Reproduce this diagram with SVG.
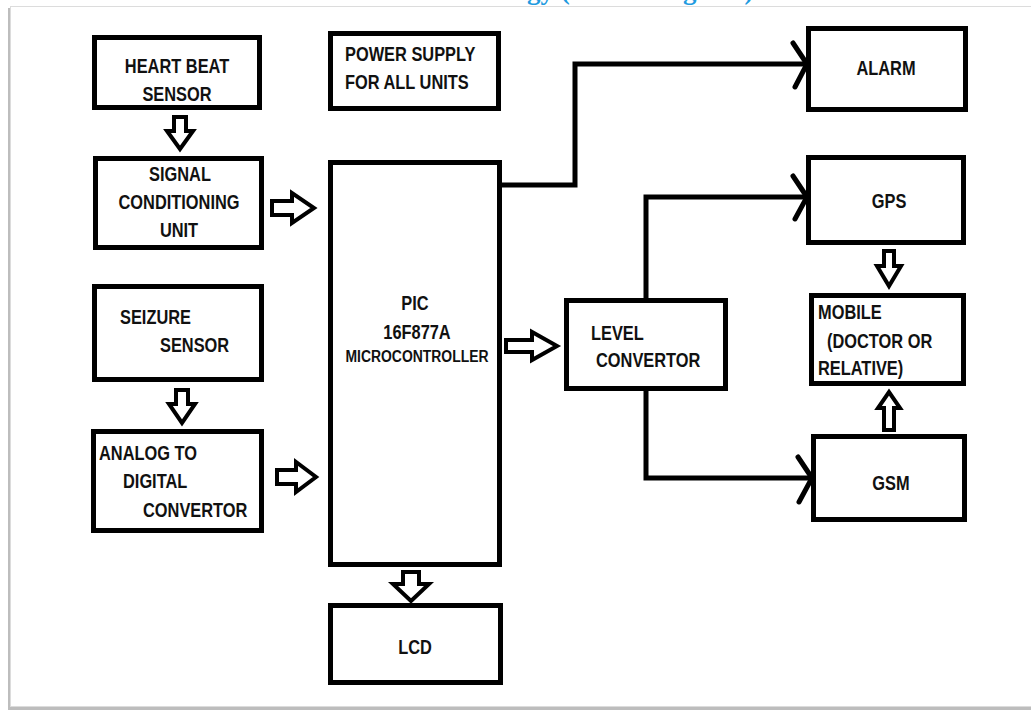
<svg xmlns="http://www.w3.org/2000/svg" width="1031" height="711" viewBox="0 0 1031 711">
<style>
.box{fill:#fff;stroke:#000;stroke-width:5}
.t{font-family:"Liberation Sans",Arial,sans-serif;font-weight:bold;font-size:20px;fill:#111}
.c{text-anchor:middle}
.s{font-size:17px}
.ha{fill:#fff;stroke:#000;stroke-width:4;stroke-linejoin:miter}
.ln{fill:none;stroke:#000;stroke-width:5;stroke-linejoin:miter}
.ah{fill:none;stroke:#000;stroke-width:5;stroke-linecap:round}
.title{font-family:"Liberation Serif",serif;font-weight:bold;font-size:27px;fill:#1f9be0}
</style>
<rect x="0" y="0" width="1031" height="711" fill="#fff"/>
<rect x="8" y="8" width="1030" height="702" fill="#bdbdbd"/>
<rect x="10.5" y="6.5" width="1030" height="700" fill="#fff" stroke="#dcdcdc" stroke-width="1"/>
<text class="title" x="578" y="-1" text-anchor="middle">Methodology (Block Diagram)</text>

<g id="heart-beat-sensor">
<rect class="box" x="94.5" y="37.5" width="165" height="70"/>
<text class="t c" transform="translate(177 73) scale(.82 1)">HEART BEAT</text>
<text class="t c" transform="translate(177 101) scale(.82 1)">SENSOR</text>
</g>
<g id="power-supply">
<rect class="box" x="330.5" y="33.5" width="168" height="75"/>
<text class="t" transform="translate(345 61) scale(.82 1)">POWER SUPPLY</text>
<text class="t" transform="translate(345 89) scale(.82 1)">FOR ALL UNITS</text>
</g>
<g id="signal-conditioning">
<rect class="box" x="95.5" y="158.5" width="166" height="89"/>
<text class="t c" transform="translate(180 181) scale(.82 1)">SIGNAL</text>
<text class="t c" transform="translate(179 209) scale(.82 1)">CONDITIONING</text>
<text class="t c" transform="translate(179 237) scale(.82 1)">UNIT</text>
</g>
<g id="seizure-sensor">
<rect class="box" x="94.5" y="286.5" width="167" height="93"/>
<text class="t" transform="translate(120 324) scale(.82 1)">SEIZURE</text>
<text class="t" transform="translate(160 352) scale(.82 1)">SENSOR</text>
</g>
<g id="adc">
<rect class="box" x="93.5" y="431.5" width="168" height="99"/>
<text class="t" transform="translate(99 460) scale(.82 1)">ANALOG TO</text>
<text class="t" transform="translate(123 488) scale(.82 1)">DIGITAL</text>
<text class="t" transform="translate(143 517) scale(.82 1)">CONVERTOR</text>
</g>
<g id="pic">
<rect class="box" x="330.5" y="162.5" width="169" height="402"/>
<text class="t c" transform="translate(415 310) scale(.82 1)">PIC</text>
<text class="t c" transform="translate(417 339) scale(.82 1)">16F877A</text>
<text class="t c s" transform="translate(417 362) scale(.82 1)">MICROCONTROLLER</text>
</g>
<g id="lcd">
<rect class="box" x="330.5" y="605.5" width="170" height="77"/>
<text class="t c" transform="translate(415 654) scale(.82 1)">LCD</text>
</g>
<g id="level-convertor">
<rect class="box" x="566.5" y="300.5" width="159" height="88"/>
<text class="t" transform="translate(591 340) scale(.82 1)">LEVEL</text>
<text class="t" transform="translate(596 367) scale(.82 1)">CONVERTOR</text>
</g>
<g id="alarm">
<rect class="box" x="808.5" y="28.5" width="157" height="81"/>
<text class="t c" transform="translate(886 75) scale(.82 1)">ALARM</text>
</g>
<g id="gps">
<rect class="box" x="808.5" y="157.5" width="155" height="85"/>
<text class="t c" transform="translate(889 208) scale(.82 1)">GPS</text>
</g>
<g id="mobile">
<rect class="box" x="811.5" y="295.5" width="152" height="88"/>
<text class="t" transform="translate(818 319) scale(.82 1)">MOBILE</text>
<text class="t" transform="translate(827 348) scale(.82 1)">(DOCTOR OR</text>
<text class="t" transform="translate(818 375) scale(.82 1)">RELATIVE)</text>
</g>
<g id="gsm">
<rect class="box" x="813.5" y="436.5" width="151" height="83"/>
<text class="t c" transform="translate(891 490) scale(.82 1)">GSM</text>
</g>

<g id="connectors">
<path class="ha" d="M174,117 H186 V131 H193 L180,149 L167,131 H174 Z"/>
<path class="ha" d="M176,390 H188 V404 H195 L182,423 L169,404 H176 Z"/>
<path class="ha" d="M403,572 H419 V584 H429 L411,601 L393,584 H403 Z"/>
<path class="ha" d="M884,251 H894 V266 H901 L889,286 L877,266 H884 Z"/>
<path class="ha" d="M884,430 H894 V408 H900 L889,392 L878,408 H884 Z"/>
<path class="ha" d="M272,201 H292 V193 L314,208 L292,223 V215 H272 Z"/>
<path class="ha" d="M277,470 H296 V462 L316,477 L296,492 V484 H277 Z"/>
<path class="ha" d="M506,340 H532 V332 L557,346 L532,360 V352 H506 Z"/>
<path class="ln" d="M502,185 H575 V64 H806"/>
<path class="ah" d="M793,43 L807,64 L795,87"/>
<path class="ln" d="M646,298 V197 H806"/>
<path class="ah" d="M793,176 L807,197 L795,219"/>
<path class="ln" d="M646,391 V478 H811"/>
<path class="ah" d="M798,457 L812,478 L799,502"/>
</g>
</svg>
